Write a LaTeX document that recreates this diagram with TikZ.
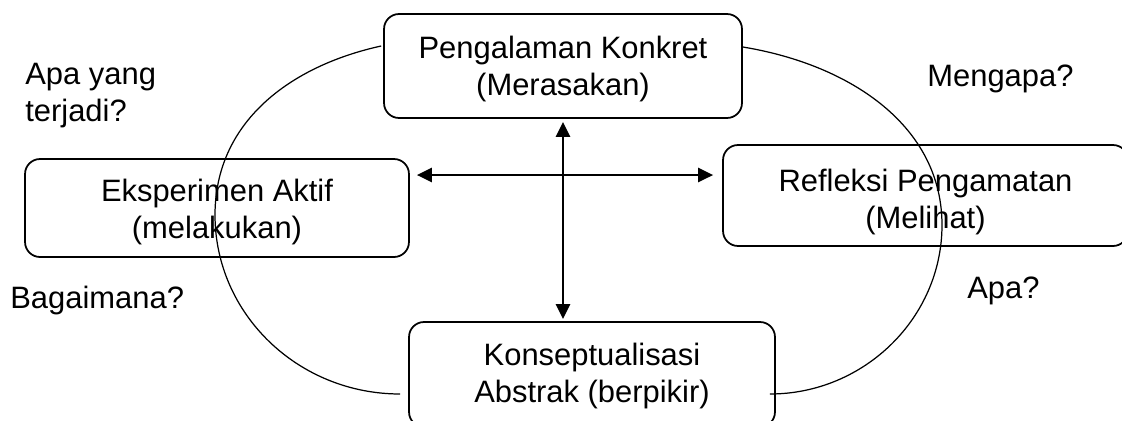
\documentclass[tikz,border=0pt]{standalone}
\usepackage{fontspec}
\setmainfont{Liberation Sans}
\usetikzlibrary{arrows.meta}

\begin{document}
\begin{tikzpicture}[x=0.02cm, y=-0.02cm,
  every node/.style={font=\fontsize{17.6}{21}\selectfont},
  stage/.style={draw, rectangle, rounded corners=0.3cm, line width=1pt, align=center, inner sep=0pt},
  biarrow/.style={{Triangle[length=0.3cm,width=0.28cm]}-{Triangle[length=0.3cm,width=0.28cm]}, line width=1.5pt},
  cycleline/.style={line width=0.7pt},
  question/.style={anchor=north west, align=left, inner sep=0pt}]
\useasboundingbox (0,0) rectangle (1122,420);

% Four stages
\node[stage, minimum width=7.16cm, minimum height=2.08cm] (konkret) at (563,66) {\rule{0pt}{0.56cm}Pengalaman Konkret\\(Merasakan)};
\node[stage, minimum width=7.68cm, minimum height=1.96cm] (aktif) at (217,208) {\rule{0pt}{0.6cm}Eksperimen Aktif\\(melakukan)};
\node[stage, minimum width=8.1cm, minimum height=2.02cm] (refleksi) at (925.5,195.5) {\rule{0pt}{0.72cm}Refleksi Pengamatan\\(Melihat)};
\node[stage, minimum width=7.32cm, minimum height=2.1cm] (abstrak) at (592,374.5) {\rule{0pt}{0.52cm}Konseptualisasi\\Abstrak (berpikir)};

% Arrows
\draw[biarrow] ([shift={(7,-33)}]aktif.east) -- ([shift={(-9,-20.5)}]refleksi.west);
\draw[biarrow] ([shift={(0,3)}]konkret.south) -- ([shift={(-29,-2)}]abstrak.north);

% Cycle
\draw[cycleline] ([shift={(-2,-20)}]konkret.west) .. controls (290,66) and (215,122) .. (215,215)
  .. controls (215,314) and (298,394) .. ([shift={(-8,19.5)}]abstrak.west);
\draw[cycleline] ([shift={(0,-19)}]konkret.east) .. controls (852,65) and (942,127) .. (942,225)
  .. controls (942,318) and (864,394) .. ([shift={(-6,19.5)}]abstrak.east);

% Questions
\node[question] (q1) at (25,63) {Apa yang\\terjadi?};
\node[question] (q2) at (927,65) {Mengapa?};
\node[question] (q3) at (10,286) {Bagaimana?};
\node[question] (q4) at (967,277) {Apa?};
\end{tikzpicture}
\end{document}
